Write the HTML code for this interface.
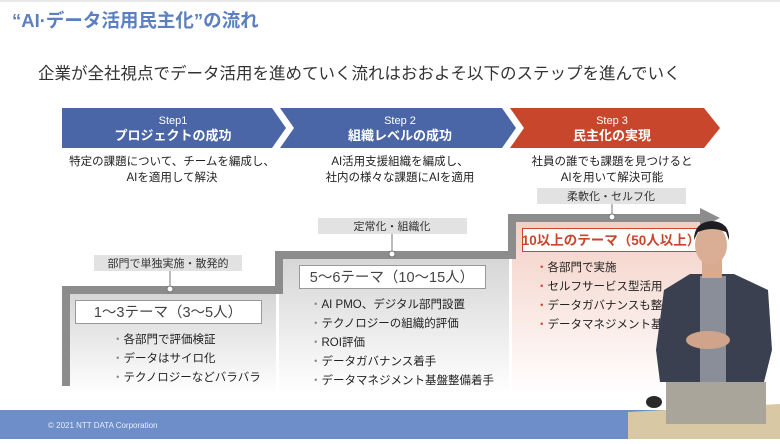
<!DOCTYPE html>
<html><head><meta charset="utf-8"><style>
body{margin:0;width:780px;height:439px;overflow:hidden;background:#fff;font-family:"Liberation Sans","Noto Sans CJK JP",sans-serif;}
svg text{font-family:"Liberation Sans","Noto Sans CJK JP",sans-serif;}
</style></head><body>
<svg width="780" height="439" viewBox="0 0 780 439" xmlns="http://www.w3.org/2000/svg">
<defs>
<linearGradient id="g1" x1="0" y1="0" x2="0" y2="1"><stop offset="0" stop-color="#d6d6d6"/><stop offset="1" stop-color="#fff"/></linearGradient>
<linearGradient id="g3" x1="0" y1="0" x2="0" y2="1"><stop offset="0" stop-color="#f3cfc5"/><stop offset="1" stop-color="#fff"/></linearGradient>
</defs>
<rect x="0" y="0" width="780" height="2" fill="#e8e8e8"/>
<text x="12" y="27" font-size="18.5" font-weight="bold" fill="#5b7fc0">“AI·データ活用民主化”の流れ</text>
<text x="38" y="79" font-size="16.5" fill="#333">企業が全社視点でデータ活用を進めていく流れはおおよそ以下のステップを進んでいく</text>
<polygon points="62,108 272,108 286,128 272,148 62,148" fill="#4a66a6"/>
<polygon points="280,108 502,108 516,128 502,148 280,148 294,128" fill="#4a66a6"/>
<polygon points="510,108 704,108 720,128 704,148 510,148 524,128" fill="#c8462b"/>
<g fill="#fff" text-anchor="middle">
<text x="173" y="124" font-size="11">Step1</text><text x="173" y="140" font-size="13" font-weight="bold">プロジェクトの成功</text>
<text x="400" y="124" font-size="11">Step 2</text><text x="400" y="140" font-size="13" font-weight="bold">組織レベルの成功</text>
<text x="612" y="124" font-size="11">Step 3</text><text x="612" y="140" font-size="13" font-weight="bold">民主化の実現</text>
</g>
<g fill="#222" text-anchor="middle" font-size="11.5">
<text x="172" y="165">特定の課題について、チームを編成し、</text><text x="172" y="181">AIを適用して解決</text>
<text x="400" y="165">AI活用支援組織を編成し、</text><text x="400" y="181">社内の様々な課題にAIを適用</text>
<text x="612" y="165">社員の誰でも課題を見つけると</text><text x="612" y="181">AIを用いて解決可能</text>
</g>
<rect x="66" y="294" width="210" height="100" fill="url(#g1)"/>
<rect x="279" y="259" width="230" height="135" fill="url(#g1)"/>
<rect x="512" y="222" width="190" height="172" fill="url(#g3)"/>
<polyline points="66,386 66,290 279,290 279,255 512,255 512,218 702,218" fill="none" stroke="#8c8c8c" stroke-width="8"/>
<polygon points="700,208 720,218 700,228" fill="#8c8c8c"/>
<rect x="94" y="255" width="148" height="16" fill="#e2e2e2"/>
<text x="168" y="267" font-size="11" text-anchor="middle" fill="#333">部門で単独実施・散発的</text>
<line x1="170" y1="271" x2="170" y2="288" stroke="#777"/><circle cx="170" cy="289" r="3" fill="#fff" stroke="#777"/>
<rect x="318" y="218" width="149" height="16" fill="#e2e2e2"/>
<text x="392" y="230" font-size="11" text-anchor="middle" fill="#333">定常化・組織化</text>
<line x1="392" y1="234" x2="392" y2="253" stroke="#777"/><circle cx="392" cy="254" r="3" fill="#fff" stroke="#777"/>
<rect x="537" y="188" width="149" height="16" fill="#e2e2e2"/>
<text x="611" y="200" font-size="11" text-anchor="middle" fill="#333">柔軟化・セルフ化</text>
<line x1="612" y1="204" x2="612" y2="216" stroke="#777"/><circle cx="612" cy="217" r="3" fill="#fff" stroke="#777"/>
<rect x="75.5" y="300.5" width="186" height="23" fill="#fff" stroke="#999"/>
<text x="168" y="317" font-size="14.5" text-anchor="middle" fill="#444">1〜3テーマ（3〜5人）</text>
<rect x="299.5" y="265.5" width="186" height="23" fill="#fff" stroke="#999"/>
<text x="392" y="282" font-size="14.5" text-anchor="middle" fill="#444">5〜6テーマ（10〜15人）</text>
<rect x="522.5" y="228.5" width="178" height="23" fill="#fff" stroke="#c8462b"/>
<text x="611" y="245" font-size="13.5" text-anchor="middle" fill="#c8462b" font-weight="bold">10以上のテーマ（50人以上）</text>
<g font-size="11.5" fill="#222">
<text x="112" y="343"><tspan fill="#888">・</tspan>各部門で評価検証</text>
<text x="112" y="362"><tspan fill="#888">・</tspan>データはサイロ化</text>
<text x="112" y="381"><tspan fill="#888">・</tspan>テクノロジーなどバラバラ</text>
<text x="310" y="308"><tspan fill="#888">・</tspan>AI PMO、デジタル部門設置</text>
<text x="310" y="327"><tspan fill="#888">・</tspan>テクノロジーの組織的評価</text>
<text x="310" y="346"><tspan fill="#888">・</tspan>ROI評価</text>
<text x="310" y="365"><tspan fill="#888">・</tspan>データガバナンス着手</text>
<text x="310" y="384"><tspan fill="#888">・</tspan>データマネジメント基盤整備着手</text>
<text x="536" y="271"><tspan fill="#c8462b">・</tspan>各部門で実施</text>
<text x="536" y="290"><tspan fill="#c8462b">・</tspan>セルフサービス型活用</text>
<text x="536" y="309"><tspan fill="#c8462b">・</tspan>データガバナンスも整備</text>
<text x="536" y="328"><tspan fill="#c8462b">・</tspan>データマネジメント基盤も</text>
</g>
<rect x="0" y="410" width="780" height="29" fill="#6d8ec8"/>
<text x="48" y="428" font-size="8" fill="#e8eef8">© 2021 NTT DATA Corporation</text>
<polygon points="628,412 780,404 780,439 628,439" fill="#d8c8a4"/>
<path d="M690,274 L734,274 L768,290 L772,350 L764,382 L660,382 L656,350 L664,290 Z" fill="#3a4050"/>
<rect x="700" y="276" width="26" height="106" fill="#8a8e98"/>
<rect x="702" y="258" width="20" height="20" fill="#d8aa90"/>
<ellipse cx="711" cy="245" rx="16" ry="20" fill="#d9ae94"/>
<path d="M694,240 Q694,222 712,221 Q730,222 729,240 L726,232 Q712,226 698,232 Z" fill="#1e1e22"/>
<ellipse cx="708" cy="340" rx="22" ry="9" fill="#d0a48a"/>
<rect x="666" y="382" width="100" height="42" fill="#a9a59b"/>
<ellipse cx="654" cy="402" rx="8" ry="6" fill="#2a2a2a"/>
</svg>
</body></html>
